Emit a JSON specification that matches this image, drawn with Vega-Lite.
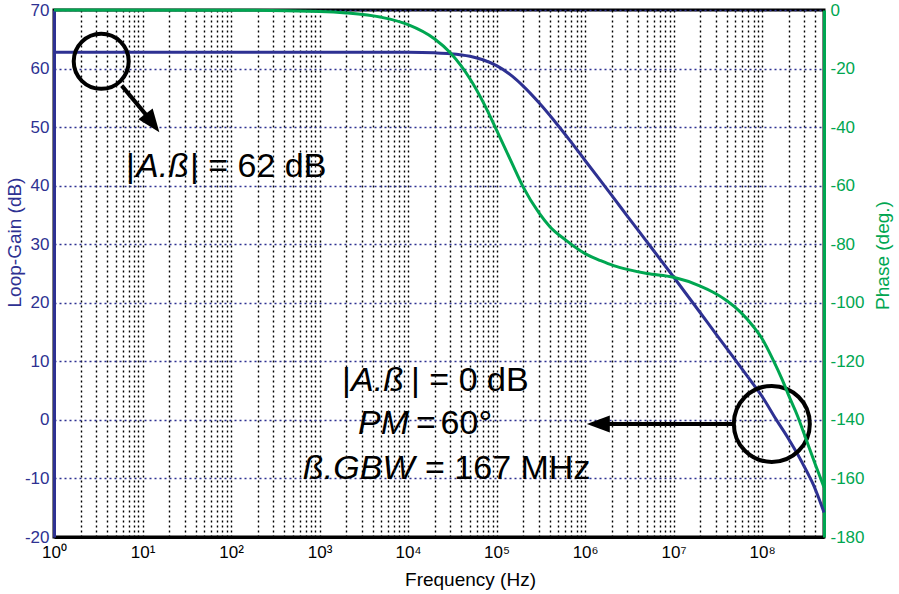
{
  "$schema": "https://vega.github.io/schema/vega-lite/v6.json",
  "width": 770,
  "height": 527,
  "autosize": {"type": "none"},
  "padding": {"left": 54, "top": 10, "right": 75, "bottom": 57},
  "background": "white",
  "config": {
    "view": {"stroke": "black", "strokeWidth": 3},
    "axis": {"labelFont": "Liberation Sans", "titleFont": "Liberation Sans", "titleFontWeight": "normal"}
  },
  "datasets": {
    "gain": [
      {"f": 1, "db": 62.8}, {"f": 100, "db": 62.8}, {"f": 1000, "db": 62.8}, {"f": 10000, "db": 62.77},
      {"f": 20000, "db": 62.68}, {"f": 30000, "db": 62.54}, {"f": 50000, "db": 62.1}, {"f": 70000, "db": 61.5},
      {"f": 100000, "db": 60.5}, {"f": 150000, "db": 58.7}, {"f": 200000, "db": 57.0}, {"f": 300000, "db": 54.2},
      {"f": 500000, "db": 50.2}, {"f": 700000, "db": 47.4}, {"f": 1000000, "db": 44.3}, {"f": 2000000, "db": 38.35},
      {"f": 3000000, "db": 34.8}, {"f": 5000000, "db": 30.4}, {"f": 10000000, "db": 24.4}, {"f": 20000000, "db": 18.3},
      {"f": 30000000, "db": 14.7}, {"f": 50000000, "db": 10.2}, {"f": 70000000, "db": 7.2}, {"f": 100000000, "db": 4.0},
      {"f": 145000000, "db": 0.0}, {"f": 200000000, "db": -3.3}, {"f": 250000000, "db": -5.8}, {"f": 290000000, "db": -7.6},
      {"f": 340000000, "db": -9.6}, {"f": 380000000, "db": -11.1}, {"f": 440000000, "db": -13.5}, {"f": 500000000, "db": -15.8}
    ],
    "phase": [
      {"f": 1, "deg": 0}, {"f": 100, "deg": -0.05}, {"f": 1000, "deg": -0.5}, {"f": 2000, "deg": -1.0},
      {"f": 5000, "deg": -2.5}, {"f": 10000, "deg": -5.0}, {"f": 20000, "deg": -9.9}, {"f": 30000, "deg": -14.6},
      {"f": 40000, "deg": -19.2}, {"f": 50000, "deg": -23.5}, {"f": 70000, "deg": -31.3}, {"f": 100000, "deg": -41.0},
      {"f": 150000, "deg": -52.5}, {"f": 200000, "deg": -60.5}, {"f": 300000, "deg": -69.2}, {"f": 400000, "deg": -74.0},
      {"f": 600000, "deg": -78.5}, {"f": 1000000, "deg": -83.2}, {"f": 1500000, "deg": -85.6}, {"f": 2100000, "deg": -87.3},
      {"f": 3000000, "deg": -88.6}, {"f": 5000000, "deg": -90.0}, {"f": 10000000, "deg": -91.3}, {"f": 20000000, "deg": -94.3},
      {"f": 28000000, "deg": -96.4}, {"f": 40000000, "deg": -99.3}, {"f": 57000000, "deg": -103.2}, {"f": 80000000, "deg": -108.2},
      {"f": 100000000, "deg": -112.3}, {"f": 133000000, "deg": -119.5}, {"f": 170000000, "deg": -126.5}, {"f": 205000000, "deg": -132.5},
      {"f": 250000000, "deg": -138.5}, {"f": 300000000, "deg": -145.0}, {"f": 400000000, "deg": -155.3}, {"f": 500000000, "deg": -163.0}
    ],
    "circles": [
      {"name": "low", "f": 3.415, "db": 61.23},
      {"name": "cross", "f": 128700000, "db": -0.684}
    ],
    "arrows": [
      {"id": 1, "f": 5.82, "db": 57.09}, {"id": 1, "f": 11.54, "db": 51.71},
      {"id": 2, "f": 1331000, "db": -0.684}, {"id": 2, "f": 47000000, "db": -0.684}
    ],
    "heads": [
      {"id": 1, "f": 12.94, "db": 50.68},
      {"id": 2, "f": 1410000, "db": -0.684}
    ],
    "textN": [
      {"t": "|", "f": 6.51, "db": 41.54},
      {"t": "| = 62 dB", "f": 34.4, "db": 41.54},
      {"t": "|", "f": 1796, "db": 4.96},
      {"t": "| = 0 dB", "f": 10812, "db": 4.96},
      {"t": "=", "f": 12315, "db": -2.39},
      {"t": "60°", "f": 23290, "db": -2.39},
      {"t": "= 167 MHz", "f": 15565, "db": -10.09}
    ],
    "textI": [
      {"t": "A.ß", "f": 8.45, "db": 41.54},
      {"t": "A.ß", "f": 2269, "db": 4.96},
      {"t": "PM", "f": 2723, "db": -2.39},
      {"t": "ß.GBW", "f": 651, "db": -10.09}
    ]
  },
  "layer": [
    {
      "layer": [
        {
          "data": {"name": "gain"},
          "mark": {"type": "line", "color": "#2E3192", "strokeWidth": 3, "interpolate": "monotone"},
          "encoding": {
            "x": {
              "field": "f", "type": "quantitative",
              "scale": {"type": "log", "domain": [1, 500000000], "nice": false},
              "axis": {
                "title": "Frequency (Hz)",
                "values": [1,2,3,4,5,6,7,8,9,10,20,30,40,50,60,70,80,90,100,200,300,400,500,600,700,800,900,1000,2000,3000,4000,5000,6000,7000,8000,9000,10000,20000,30000,40000,50000,60000,70000,80000,90000,100000,200000,300000,400000,500000,600000,700000,800000,900000,1000000,2000000,3000000,4000000,5000000,6000000,7000000,8000000,9000000,10000000,20000000,30000000,40000000,50000000,60000000,70000000,80000000,90000000,100000000,200000000,300000000,400000000],
                "labelExpr": "abs(log(datum.value)/LN10 - round(log(datum.value)/LN10)) < 0.001 ? '10' + ['⁰','¹','²','³','⁴','⁵','⁶','⁷','⁸'][round(log(datum.value)/LN10)] : ''",
                "grid": true, "gridColor": "black", "gridDash": [2, 3], "gridWidth": 1.4,
                "ticks": false, "domainColor": "black", "domainWidth": 3,
                "labelFontSize": 17, "labelColor": "black", "labelPadding": 7,
                "labelOverlap": false, "labelBound": false, "labelFlush": false,
                "titleFontSize": 19, "titleColor": "black", "titleX": 416, "titleY": 48,
                "titleAlign": "center", "titleBaseline": "alphabetic"
              }
            },
            "y": {
              "field": "db", "type": "quantitative",
              "scale": {"domain": [-20, 70], "nice": false, "zero": false},
              "axis": {
                "title": "Loop-Gain (dB)",
                "values": [-20, -10, 0, 10, 20, 30, 40, 50, 60, 70],
                "labelExpr": "'' + datum.value",
                "grid": true, "gridColor": "#2E3192", "gridDash": [2, 3], "gridWidth": 1.3,
                "ticks": false, "domainColor": "#2E3192", "domainWidth": 3,
                "labelColor": "#2E3192", "labelFontSize": 17, "labelPadding": 5,
                "titleColor": "#2E3192", "titleFontSize": 19, "titleAngle": -90,
                "titleX": -40, "titleY": 232, "titleAlign": "center", "titleBaseline": "middle"
              }
            }
          }
        },
        {
          "data": {"name": "circles"},
          "transform": [{"filter": "datum.name == 'low'"}],
          "mark": {"type": "point", "shape": "circle", "filled": false, "stroke": "black", "strokeWidth": 4, "opacity": 1, "size": 3025},
          "encoding": {
            "x": {"field": "f", "type": "quantitative", "scale": {"type": "log"}},
            "y": {"field": "db", "type": "quantitative"}
          }
        },
        {
          "data": {"name": "circles"},
          "transform": [{"filter": "datum.name == 'cross'"}],
          "mark": {"type": "point", "shape": "circle", "filled": false, "stroke": "black", "strokeWidth": 4, "opacity": 1, "size": 5776},
          "encoding": {
            "x": {"field": "f", "type": "quantitative", "scale": {"type": "log"}},
            "y": {"field": "db", "type": "quantitative"}
          }
        },
        {
          "data": {"name": "arrows"},
          "mark": {"type": "line", "color": "black", "strokeWidth": 4},
          "encoding": {
            "x": {"field": "f", "type": "quantitative", "scale": {"type": "log"}},
            "y": {"field": "db", "type": "quantitative"},
            "detail": {"field": "id", "type": "nominal"}
          }
        },
        {
          "data": {"name": "heads"},
          "transform": [{"filter": "datum.id == 1"}],
          "mark": {"type": "point", "shape": "M0,-1L0.78,1L-0.78,1Z", "filled": true, "color": "black", "opacity": 1, "size": 529, "angle": 143},
          "encoding": {
            "x": {"field": "f", "type": "quantitative", "scale": {"type": "log"}},
            "y": {"field": "db", "type": "quantitative"}
          }
        },
        {
          "data": {"name": "heads"},
          "transform": [{"filter": "datum.id == 2"}],
          "mark": {"type": "point", "shape": "M0,-1L0.74,1L-0.74,1Z", "filled": true, "color": "black", "opacity": 1, "size": 529, "angle": 270},
          "encoding": {
            "x": {"field": "f", "type": "quantitative", "scale": {"type": "log"}},
            "y": {"field": "db", "type": "quantitative"}
          }
        },
        {
          "data": {"name": "textN"},
          "mark": {"type": "text", "align": "left", "baseline": "alphabetic", "font": "Liberation Sans", "fontSize": 34, "color": "black"},
          "encoding": {
            "x": {"field": "f", "type": "quantitative", "scale": {"type": "log"}},
            "y": {"field": "db", "type": "quantitative"},
            "text": {"field": "t"}
          }
        },
        {
          "data": {"name": "textI"},
          "mark": {"type": "text", "align": "left", "baseline": "alphabetic", "font": "Liberation Sans", "fontSize": 34, "fontStyle": "italic", "color": "black"},
          "encoding": {
            "x": {"field": "f", "type": "quantitative", "scale": {"type": "log"}},
            "y": {"field": "db", "type": "quantitative"},
            "text": {"field": "t"}
          }
        }
      ]
    },
    {
      "data": {"name": "phase"},
      "mark": {"type": "line", "color": "#00A651", "strokeWidth": 3, "interpolate": "monotone"},
      "encoding": {
        "x": {"field": "f", "type": "quantitative", "scale": {"type": "log"}},
        "y": {
          "field": "deg", "type": "quantitative",
          "scale": {"domain": [-180, 0], "nice": false, "zero": false},
          "axis": {
            "orient": "right", "title": "Phase (deg.)",
            "values": [-180, -160, -140, -120, -100, -80, -60, -40, -20, 0],
            "labelExpr": "'' + datum.value",
            "grid": false, "ticks": false, "domainColor": "#00A651", "domainWidth": 3,
            "labelColor": "#00A651", "labelFontSize": 17, "labelPadding": 6,
            "titleColor": "#00A651", "titleFontSize": 19, "titleAngle": -90,
            "titleX": 58, "titleY": 245, "titleAlign": "center", "titleBaseline": "middle"
          }
        }
      }
    }
  ],
  "resolve": {"scale": {"y": "independent"}}
}
